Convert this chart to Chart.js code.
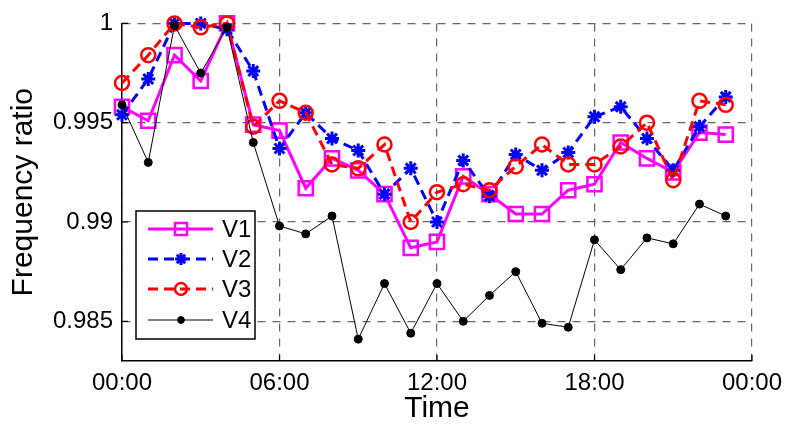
<!DOCTYPE html>
<html>
<head>
<meta charset="utf-8">
<script src="https://cdn.jsdelivr.net/npm/chart.js@4.4.1/dist/chart.umd.min.js"></script>
<style>
  html, body { margin: 0; padding: 0; background: #fff; }
  #wrap { width: 790px; height: 429px; }
</style>
</head>
<body>
<div id="wrap"><canvas id="freqChart" width="790" height="429"></canvas></div>
<script>
// Hour of day for each sample
const hours = [0, 1, 2, 3, 4, 5, 6, 7, 8, 9, 10, 11, 12, 13, 14, 15, 16, 17, 18, 19, 20, 21, 22, 23];

// Series values
const v1 = [0.9958, 0.9951, 0.9984, 0.9971, 1.0000, 0.9949, 0.9946, 0.9917, 0.9932, 0.9926, 0.9914, 0.9887,
            0.9890, 0.9923, 0.9914, 0.9904, 0.9904, 0.9916, 0.9919, 0.9940, 0.9932, 0.9925, 0.9945, 0.9944];
const v2 = [0.9954, 0.9972, 1.0000, 1.0000, 0.9997, 0.9976, 0.9937, 0.9955, 0.9942, 0.9936, 0.9914, 0.9927,
            0.9900, 0.9931, 0.9913, 0.9934, 0.9926, 0.9935, 0.9953, 0.9958, 0.9942, 0.9926, 0.9948, 0.9963];
const v3 = [0.9970, 0.9984, 1.0000, 0.9998, 1.0000, 0.9948, 0.9961, 0.9955, 0.9929, 0.9927, 0.9939, 0.9900,
            0.9915, 0.9919, 0.9916, 0.9928, 0.9939, 0.9929, 0.9929, 0.9938, 0.9950, 0.9921, 0.9961, 0.9959];
const v4 = [0.9959, 0.9930, 0.9999, 0.9975, 0.9998, 0.9940, 0.9898, 0.9894, 0.9903, 0.9841, 0.9869, 0.9844,
            0.9869, 0.9850, 0.9863, 0.9875, 0.9849, 0.9847, 0.9891, 0.9876, 0.9892, 0.9889, 0.9909, 0.9903];

// Axis ticks
const xTicks = [0, 6, 12, 18, 24];
const yTicks = [0.985, 0.99, 0.995, 1];

const toPoints = arr => arr.map((y, i) => ({ x: hours[i], y: y }));

Chart.defaults.font.family = "'Liberation Sans', Arial, sans-serif";
Chart.defaults.color = '#000';

// Legend drawn inside the plot, like the original figure
const boxLegend = {
    id: 'boxLegend',
    afterDatasetsDraw(chart) {
        const ctx = chart.ctx;
        const rowsY = [229, 259, 289, 320];
        ctx.save();
        ctx.fillStyle = '#fff';
        ctx.fillRect(136, 211, 119, 128);
        ctx.strokeStyle = '#000';
        ctx.lineWidth = 1.5;
        ctx.strokeRect(136, 211, 119, 128);
        chart.data.datasets.forEach((ds, i) => {
            const y = rowsY[i];
            ctx.setLineDash(ds.borderDash || []);
            ctx.strokeStyle = ds.borderColor;
            ctx.lineWidth = ds.borderWidth;
            ctx.beginPath();
            ctx.moveTo(148, y);
            ctx.lineTo(213, y);
            ctx.stroke();
            ctx.setLineDash([]);
            ctx.fillStyle = ds.pointBackgroundColor;
            ctx.strokeStyle = ds.pointBorderColor;
            ctx.lineWidth = ds.pointBorderWidth;
            Chart.helpers.drawPoint(ctx, {
                pointStyle: ds.pointStyle,
                radius: ds.pointRadius * 0.85,
                borderWidth: ds.pointBorderWidth,
                rotation: 0
            }, 181, y);
            ctx.fillStyle = '#000';
            ctx.font = "24px 'Liberation Sans', Arial, sans-serif";
            ctx.textBaseline = 'middle';
            ctx.textAlign = 'left';
            ctx.fillText(ds.label, 222, y + 1);
        });
        ctx.restore();
    }
};

// Small inward tick marks on the two solid axes
const inwardTicks = {
    id: 'inwardTicks',
    afterDraw(chart) {
        const { ctx, chartArea, scales } = chart;
        ctx.save();
        ctx.strokeStyle = '#000';
        ctx.lineWidth = 1.2;
        ctx.beginPath();
        xTicks.forEach(t => {
            const px = scales.x.getPixelForValue(t);
            ctx.moveTo(px, chartArea.bottom);
            ctx.lineTo(px, chartArea.bottom - 6);
        });
        yTicks.forEach(t => {
            const py = scales.y.getPixelForValue(t);
            ctx.moveTo(chartArea.left, py);
            ctx.lineTo(chartArea.left + 6, py);
        });
        ctx.stroke();
        ctx.restore();
    }
};

const ctx = document.getElementById('freqChart').getContext('2d');
const chart = new Chart(ctx, {
    type: 'line',
    data: {
        datasets: [
            {
                label: 'V1',
                data: toPoints(v1),
                borderColor: '#ff00ff',
                borderWidth: 3,
                pointStyle: 'rect',
                pointRadius: 10,
                pointBorderWidth: 2.5,
                pointBorderColor: '#ff00ff',
                pointBackgroundColor: 'rgba(0,0,0,0)',
                order: 3
            },
            {
                label: 'V2',
                data: toPoints(v2),
                borderColor: '#0000ff',
                borderWidth: 3,
                borderDash: [10, 6],
                pointStyle: 'star',
                pointRadius: 7,
                pointBorderWidth: 3,
                pointBorderColor: '#0000ff',
                pointBackgroundColor: '#0000ff',
                order: 2
            },
            {
                label: 'V3',
                data: toPoints(v3),
                borderColor: '#ff0000',
                borderWidth: 3,
                borderDash: [10, 6],
                pointStyle: 'circle',
                pointRadius: 7,
                pointBorderWidth: 2.5,
                pointBorderColor: '#ff0000',
                pointBackgroundColor: 'rgba(0,0,0,0)',
                order: 1
            },
            {
                label: 'V4',
                data: toPoints(v4),
                borderColor: '#000000',
                borderWidth: 1,
                pointStyle: 'circle',
                pointRadius: 4,
                pointBorderWidth: 1,
                pointBorderColor: '#000000',
                pointBackgroundColor: '#000000',
                order: 0
            }
        ]
    },
    options: {
        responsive: false,
        animation: false,
        clip: false,
        layout: { padding: { top: 21, right: 31, left: 0, bottom: 0 } },
        plugins: {
            legend: { display: false },
            tooltip: { enabled: false }
        },
        elements: { line: { tension: 0 } },
        scales: {
            x: {
                type: 'linear',
                min: 0,
                max: 24,
                afterBuildTicks: scale => { scale.ticks = xTicks.map(v => ({ value: v })); },
                afterFit: scale => { scale.height = 68; },
                ticks: {
                    font: { size: 24 },
                    padding: 8,
                    maxRotation: 0,
                    callback: v => String(v % 24).padStart(2, '0') + ':00'
                },
                grid: { color: '#666666', lineWidth: 1.2, drawTicks: false, borderDash: [8, 7] },
                border: { display: true, color: '#000', width: 1.5, dash: [8, 7] },
                title: { display: true, text: 'Time', font: { size: 30 }, padding: { top: 0, bottom: 2 } }
            },
            y: {
                type: 'linear',
                min: 0.983,
                max: 1.0,
                afterBuildTicks: scale => { scale.ticks = yTicks.map(v => ({ value: v })); },
                afterFit: scale => { scale.width = 122; },
                ticks: {
                    font: { size: 24 },
                    padding: 9,
                    callback: v => String(Number(v.toFixed(3)))
                },
                grid: { color: '#666666', lineWidth: 1.2, drawTicks: false, borderDash: [8, 7] },
                border: { display: true, color: '#000', width: 1.5, dash: [8, 7] },
                title: { display: true, text: 'Frequency ratio', font: { size: 30 }, padding: { top: 6, bottom: 0 } }
            }
        }
    },
    plugins: [boxLegend, inwardTicks]
});
</script>
</body>
</html>
